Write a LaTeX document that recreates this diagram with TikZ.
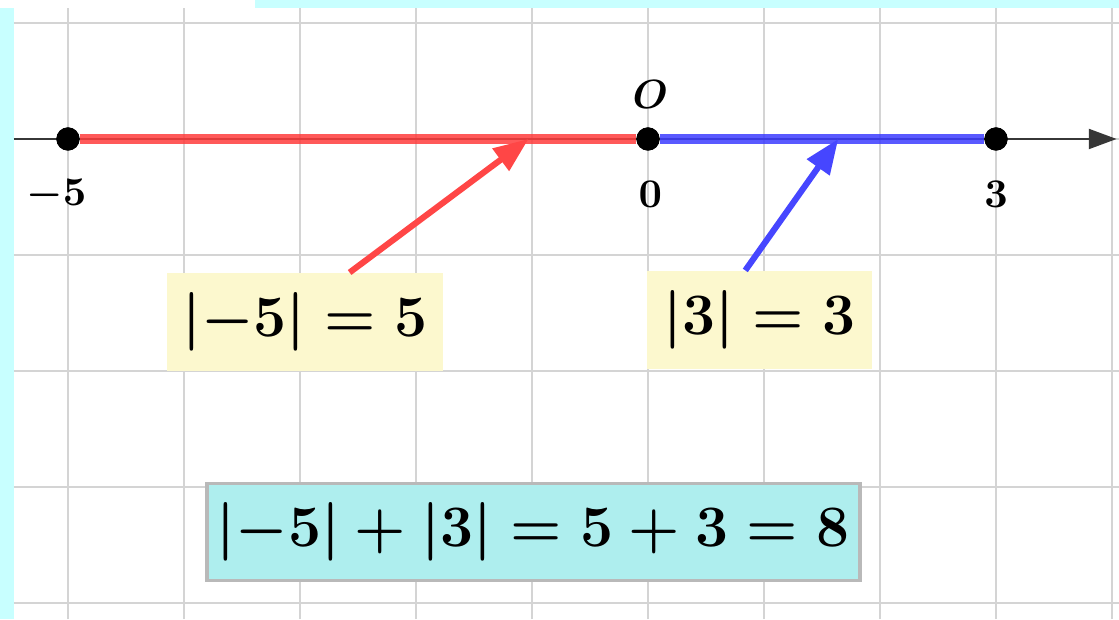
\documentclass[tikz,border=0pt]{standalone}
\usepackage{amsmath}
\usetikzlibrary{positioning, arrows.meta, calc}
\definecolor{stripc}{RGB}{200,255,255}
\definecolor{gridc}{RGB}{212,212,212}
\definecolor{axisc}{RGB}{55,55,55}
\definecolor{segred}{RGB}{255,60,60}
\definecolor{segblue}{RGB}{60,60,255}
\definecolor{noteyel}{RGB}{252,248,206}
\definecolor{sumcyan}{RGB}{174,238,238}
\definecolor{sumedge}{RGB}{185,185,185}

\begin{document}
\begin{tikzpicture}[
    dot/.style = {circle, fill=black, inner sep=0pt, minimum size=2mm},
    ticklab/.style = {font=\normalsize\boldmath, inner sep=1pt},
    note/.style = {fill=noteyel, minimum height=0.84cm, inner xsep=2pt,
                   font=\fontsize{13.5}{16}\selectfont\boldmath},
    sumbox/.style = {fill=sumcyan, draw=sumedge, line width=0.8pt,
                     minimum width=5.63cm, minimum height=0.84cm, inner xsep=2pt,
                     font=\fontsize{13.5}{16}\selectfont\boldmath},
    seg/.style = {line width=2.4pt, opacity=0.85},
    pointer/.style = {-{Triangle[length=3mm, width=2.3mm]}, line width=1.5pt},
  ]
    \useasboundingbox (-5.586,-4.138) rectangle (4.060,1.198);
    % frame strips
    \fill[white] (-5.586,-4.138) rectangle (4.060,1.198);
    \fill[stripc] (-3.388,1.129) rectangle (4.060,1.198);
    \fill[stripc] (-5.586,-4.138) rectangle (-5.466,1.129);
    \draw[gridc, line width=0.65pt] (-5.466,-4.138) grid (4.060,1.129);

    % number line
    \coordinate (xstart) at (-5.466,0);
    \coordinate (xend) at (4.04,0);
    \draw[axisc, line width=0.7pt, -{Triangle[length=2.4mm, width=1.7mm]}]
      (xstart) -- (xend);
    \node[dot] (m5) at (-5,0) {};
    \node[dot] (o)  at (0,0) {};
    \node[dot] (p3) at (3,0) {};
    \draw[seg, segred]  (m5) -- (o);
    \draw[seg, segblue] (o) -- (p3);
    \node[dot] at (m5) {};
    \node[dot] at (o) {};
    \node[dot] at (p3) {};

    \node[ticklab] (lm5) at (-5.1,-0.48) {$-5$};
    \node[ticklab] (l0)  at (0.02,-0.48) {$0$};
    \node[ticklab] (l3)  at (3.0,-0.48) {$3$};
    \node[ticklab] (lo)  at (0.02,0.38) {$O$};

    % notes
    \node[note, minimum width=2.38cm] (neg) at (-2.957,-1.578)
      {$\lvert -5\rvert = 5$};
    \node[note, minimum width=1.94cm] (pos) at (0.961,-1.56)
      {$\lvert 3\rvert = 3$};
    \node[sumbox] (sum) at (-0.987,-3.388)
      {$\lvert -5\rvert + \lvert 3\rvert = 5 + 3 = 8$};

    \coordinate (rtip) at (-1.03,0);
    \coordinate (btip) at (1.64,0);
    \draw[pointer, segred!95!white]  (neg.48)  -- (rtip);
    \draw[pointer, segblue!95!white] (pos.106) -- (btip);
  \end{tikzpicture}
\end{document}
